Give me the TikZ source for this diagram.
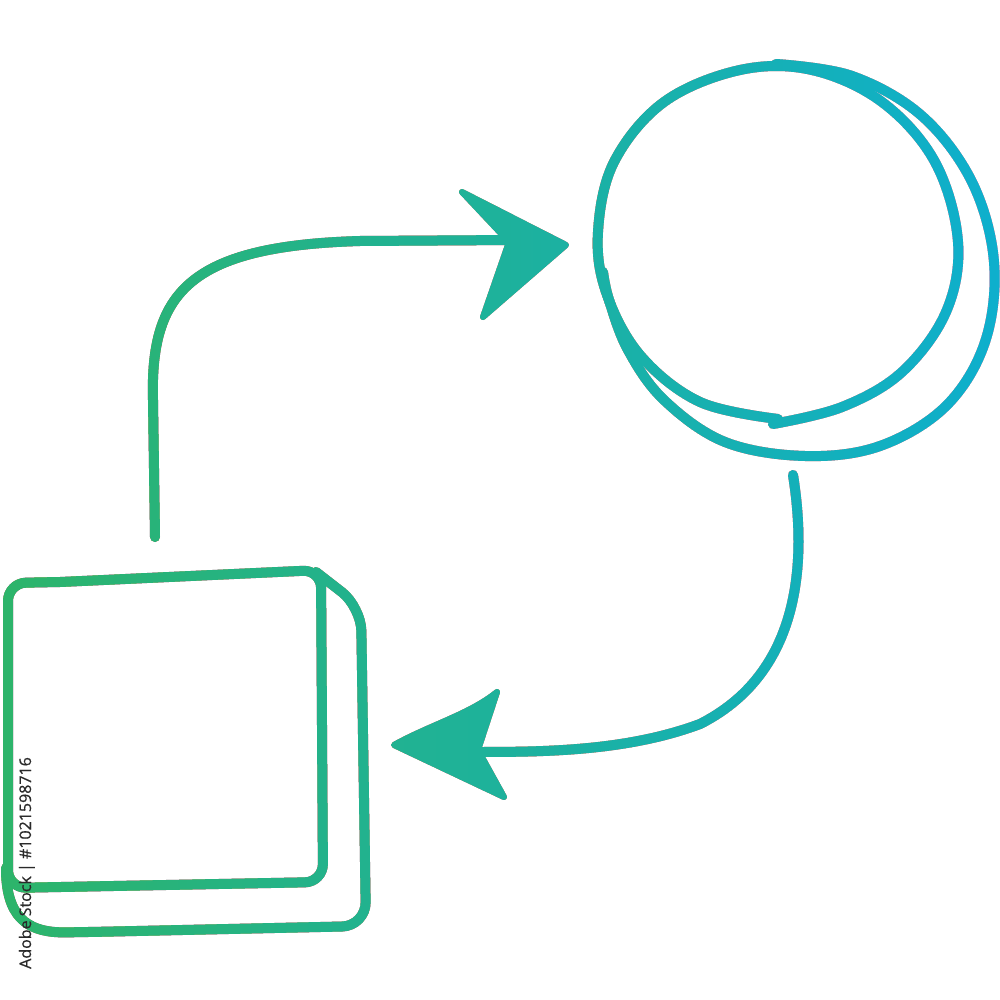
\documentclass[tikz,border=0pt]{standalone}
\usepackage{fontspec}
\setmainfont{Open Sans}
\definecolor{gleft}{HTML}{2DB46A}
\definecolor{gright}{HTML}{0EAFCD}
\definecolor{wm}{HTML}{2A2A2A}
\tikzset{
  stroke/.style={draw=black, line width=10pt, line cap=round, line join=round},
  head/.style={fill=black, draw=black, line width=6pt, line join=round},
}
\begin{document}
\begin{tikzpicture}[x=1pt,y=-1pt]
\useasboundingbox (0,0) rectangle (1000,1000);
\fill[white] (0,0) rectangle (1000,1000);
\clip (0,0) rectangle (1000,1000);
% square (inner)
\draw[stroke, rounded corners=18pt] (60,582) -- (321,570) -- (323,882) -- (8,888) -- (8,583) -- (60,582);
% square (outer)
\draw[stroke, rounded corners=24pt] (316,572) -- (361,607) -- (366,926) -- (90,932) .. controls (25,933) and (6,915) .. (6,868);
% circle inner loop
\draw[stroke] plot[smooth, tension=0.6] coordinates {(778,419) (700,402) (640,355) (606,292) (598,232) (614,162) (664,102) (740,70) (812,70) (882,102) (935,162) (958,242) (946,312) (902,372) (842,407) (773,424)};
% circle outer loop
\draw[stroke] plot[smooth, tension=0.6] coordinates {(776,64) (852,76) (922,116) (972,182) (994,262) (985,342) (946,406) (880,446) (805,456) (725,442) (664,400) (628,350) (609,300) (603,272)};
% connector end points
\coordinate (sq) at (155,537);
\coordinate (ci) at (793,475);
\coordinate (ha) at (566,245);
\coordinate (hb) at (394,745);
% up arrow
\draw[stroke] (sq) -- (153,400) .. controls (150,292) and (190,246) .. (360,241) -- (515,240);
\filldraw[head] (462,192) -- (ha) -- (483,317) -- (509,242) -- cycle;
% down arrow
\draw[stroke] (ci) .. controls (808,570) and (797,675) .. (700,724) .. controls (625,752) and (540,752) .. (470,752);
\filldraw[head] (hb) .. controls (430,725) and (470,714) .. (497,692) -- (478,750) -- (504,797) -- cycle;
% gradient colouring
\shade[blend mode=lighten, left color=gleft, right color=gright] (0,0) rectangle (1000,1000);
% id text
\node[rotate=90, anchor=base east, inner sep=0pt, text=wm, font=\fontsize{16}{16}\selectfont\addfontfeature{FakeBold=0.6}] (id) at (31,757) {Adobe Stock | \#1021598716};
\end{tikzpicture}
\end{document}
